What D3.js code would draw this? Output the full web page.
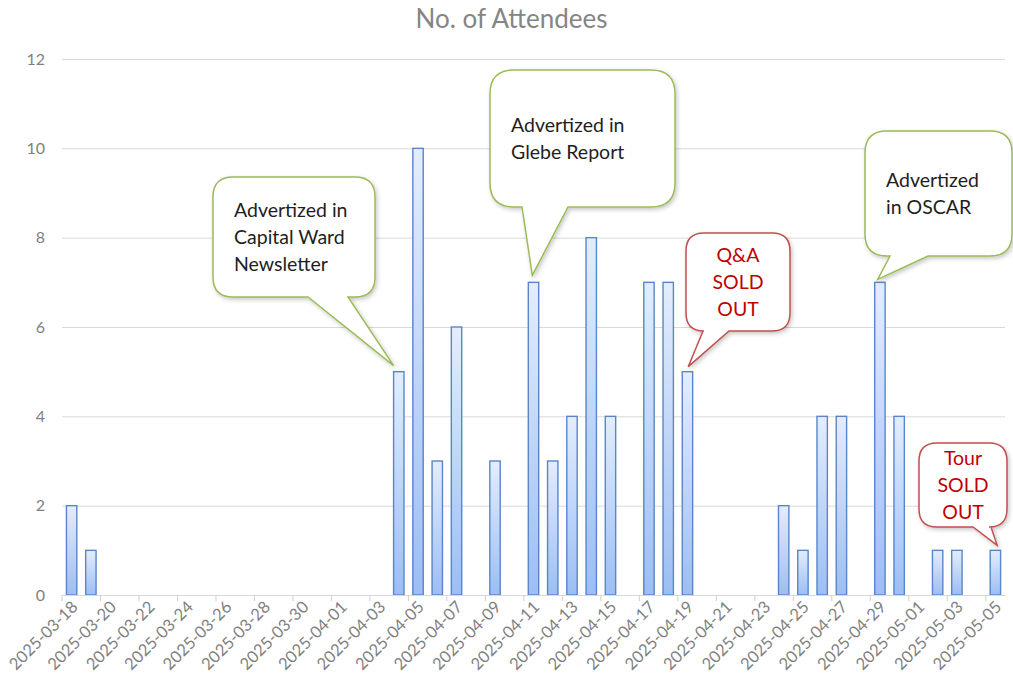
<!DOCTYPE html>
<html>
<head>
<meta charset="utf-8">
<script src="https://d3js.org/d3.v7.min.js"></script>
<style>
  body { margin: 0; background: #fff; }
  svg { display: block; font-family: Lato, "Open Sans", sans-serif; }
</style>
</head>
<body>
<div id="chart"></div>
<script>

// DATA

var dates = [
  "2025-03-18","2025-03-19","2025-03-20","2025-03-21","2025-03-22","2025-03-23","2025-03-24",
  "2025-03-25","2025-03-26","2025-03-27","2025-03-28","2025-03-29","2025-03-30","2025-03-31",
  "2025-04-01","2025-04-02","2025-04-03","2025-04-04","2025-04-05","2025-04-06","2025-04-07",
  "2025-04-08","2025-04-09","2025-04-10","2025-04-11","2025-04-12","2025-04-13","2025-04-14",
  "2025-04-15","2025-04-16","2025-04-17","2025-04-18","2025-04-19","2025-04-20","2025-04-21",
  "2025-04-22","2025-04-23","2025-04-24","2025-04-25","2025-04-26","2025-04-27","2025-04-28",
  "2025-04-29","2025-04-30","2025-05-01","2025-05-02","2025-05-03","2025-05-04","2025-05-05"
]

var attendees = [
  2, 1, 0, 0, 0, 0, 0,
  0, 0, 0, 0, 0, 0, 0,
  0, 0, 0, 5, 10, 3, 6,
  0, 3, 0, 7, 3, 4, 8,
  4, 0, 7, 7, 5, 0, 0,
  0, 0, 2, 1, 4, 4, 0,
  7, 4, 0, 1, 1, 0, 1
]

var yTicks = [0, 2, 4, 6, 8, 10, 12]

// every other day gets a label
var xTickLabels = dates.filter(function (d, i) { return i % 2 === 0 })

var chartTitle = "No. of Attendees"

// callouts
var noteDates = ["2025-04-04", "2025-04-11", "2025-04-29", "2025-04-19", "2025-05-05"]
var noteTexts = [
  ["Advertized in", "Capital Ward", "Newsletter"],
  ["Advertized in", "Glebe Report"],
  ["Advertized", "in OSCAR"],
  ["Q&A", "SOLD", "OUT"],
  ["Tour", "SOLD", "OUT"]
]
var noteKinds = ["ad", "ad", "ad", "sold", "sold"]

// callout layout (box, tail base on bottom edge, tip offset from bar top-left)
var noteBoxes = [
  {x: 213, y: 177, w: 162, h: 120, r: 20, t1: 308, t2: 348, dx: 0, dy: -6},
  {x: 490, y: 70,  w: 185, h: 137, r: 24, t1: 522, t2: 568, dx: 4, dy: -7},
  {x: 865, y: 131, w: 147, h: 125, r: 22, t1: 890, t2: 928, dx: 3, dy: -3},
  {x: 686, y: 233, w: 104, h: 98,  r: 18, t1: 703, t2: 729, dx: 6, dy: -5},
  {x: 919, y: 443, w: 88,  h: 84,  r: 18, t1: 973, t2: 991, dx: 7, dy: -5}
]

// SET DIMENSIONS

var W = 1013, H = 681
var margin = {top: 59, right: 8, bottom: 86, left: 62}
var width = W - margin.left - margin.right,
    height = H - margin.top - margin.bottom

var svg = d3.select("#chart").append("svg")
    .attr("width", W)
    .attr("height", H)

var defs = svg.append("defs")

var grad = defs.append("linearGradient")
    .attr("id", "barGrad")
    .attr("x1", 0).attr("y1", 0).attr("x2", 0).attr("y2", 1)
grad.append("stop").attr("offset", "0%").attr("stop-color", "#e3edfd")
grad.append("stop").attr("offset", "100%").attr("stop-color", "#9cbef4")

var shadow = defs.append("filter")
    .attr("id", "shadow")
    .attr("x", "-20%").attr("y", "-20%").attr("width", "140%").attr("height", "140%")
shadow.append("feDropShadow")
    .attr("dx", 1.5).attr("dy", 2)
    .attr("stdDeviation", 2)
    .attr("flood-color", "#000")
    .attr("flood-opacity", 0.22)

// SCALES

var scaleX = d3.scaleBand()
    .domain(dates)
    .range([margin.left, margin.left + width])
    .paddingInner(0.46)
    .paddingOuter(0.23)

var scaleY = d3.scaleLinear()
    .domain([0, 12])
    .range([margin.top + height, margin.top])

var step = scaleX.step()

// TITLE

svg.append("text")
    .attr("x", W / 2 + 5)
    .attr("y", 28)
    .attr("text-anchor", "middle")
    .style("font-size", "26px")
    .style("fill", "#858585")
    .text(chartTitle)

// Y AXIS + GRIDLINES

var yAxis = svg.append("g")
    .attr("transform", "translate(" + margin.left + ",0)")
    .call(d3.axisLeft(scaleY).tickValues(yTicks).tickSize(-width).tickPadding(17))

yAxis.select(".domain").remove()
yAxis.selectAll(".tick line")
    .attr("stroke", "#d9d9d9")
    .attr("stroke-width", 1)
yAxis.selectAll(".tick text")
    .style("font-size", "16px")
    .style("font-family", "Lato, sans-serif")
    .attr("fill", "#7f7f7f")

// BARS

var barData = dates.map(function (d, i) { return {date: d, value: attendees[i]} })
    .filter(function (d) { return d.value > 0 })

svg.selectAll("rect.bar")
    .data(barData)
    .enter()
    .append("rect")
    .attr("class", "bar")
    .attr("x", function (d) { return scaleX(d.date) })
    .attr("y", function (d) { return scaleY(d.value) })
    .attr("width", scaleX.bandwidth())
    .attr("height", function (d) { return scaleY(0) - scaleY(d.value) })
    .attr("fill", "url(#barGrad)")
    .attr("stroke", "#5886c9")
    .attr("stroke-width", 1.4)

// X AXIS

var xAxis = svg.append("g")
    .attr("transform", "translate(0," + scaleY(0) + ")")
    .call(d3.axisBottom(scaleX).tickValues(xTickLabels).tickSizeOuter(0).tickSize(6))

xAxis.select(".domain")
    .attr("stroke", "#d9d9d9")
    .attr("stroke-width", 1.2)
    .attr("d", "M" + margin.left + ",0.5H" + (margin.left + width))

// tick marks sit on the day boundaries, not the centers
xAxis.selectAll(".tick line")
    .attr("x1", -step / 2).attr("x2", -step / 2)
    .attr("stroke", "#d0d0d0")

xAxis.selectAll(".tick text")
    .style("font-size", "16.5px")
    .style("font-family", "Lato, sans-serif")
    .attr("fill", "#7f7f7f")
    .attr("text-anchor", "end")
    .attr("dy", "0.35em")
    .attr("transform", "translate(3,9) rotate(-45)")
    .attr("x", 0).attr("y", 0)

// CALLOUTS

function calloutPath(b, tip) {
  var x0 = b.x, y0 = b.y, x1 = b.x + b.w, y1 = b.y + b.h, r = b.r
  return "M" + (x0 + r) + "," + y0 +
    "H" + (x1 - r) +
    "Q" + x1 + "," + y0 + " " + x1 + "," + (y0 + r) +
    "V" + (y1 - r) +
    "Q" + x1 + "," + y1 + " " + (x1 - r) + "," + y1 +
    "H" + b.t2 +
    "L" + tip[0] + "," + tip[1] +
    "L" + b.t1 + "," + y1 +
    "H" + (x0 + r) +
    "Q" + x0 + "," + y1 + " " + x0 + "," + (y1 - r) +
    "V" + (y0 + r) +
    "Q" + x0 + "," + y0 + " " + (x0 + r) + "," + y0 + "Z"
}

var lineGap = 26.7

noteDates.forEach(function (d, i) {
  var b = noteBoxes[i]
  var v = attendees[dates.indexOf(d)]
  var tip = [scaleX(d) + b.dx, scaleY(v) + b.dy]
  var ad = noteKinds[i] === "ad"

  svg.append("path")
    .attr("d", calloutPath(b, tip))
    .attr("fill", "#fff")
    .attr("stroke", ad ? "#9bbb59" : "#c0504d")
    .attr("stroke-width", 1.5)
    .attr("filter", "url(#shadow)")

  var lines = noteTexts[i]
  var midY = b.y + b.h / 2 + 7
  var firstY = midY - (lines.length - 1) * lineGap / 2

  var t = svg.append("text")
    .attr("text-anchor", ad ? "start" : "middle")
    .style("font-size", "19.5px")
    .style("fill", ad ? "#1e1e1e" : "#c00000")

  lines.forEach(function (ln, k) {
    t.append("tspan")
      .attr("x", ad ? b.x + 21 : b.x + b.w / 2)
      .attr("y", firstY + k * lineGap)
      .text(ln)
  })
})

</script>
</body>
</html>
